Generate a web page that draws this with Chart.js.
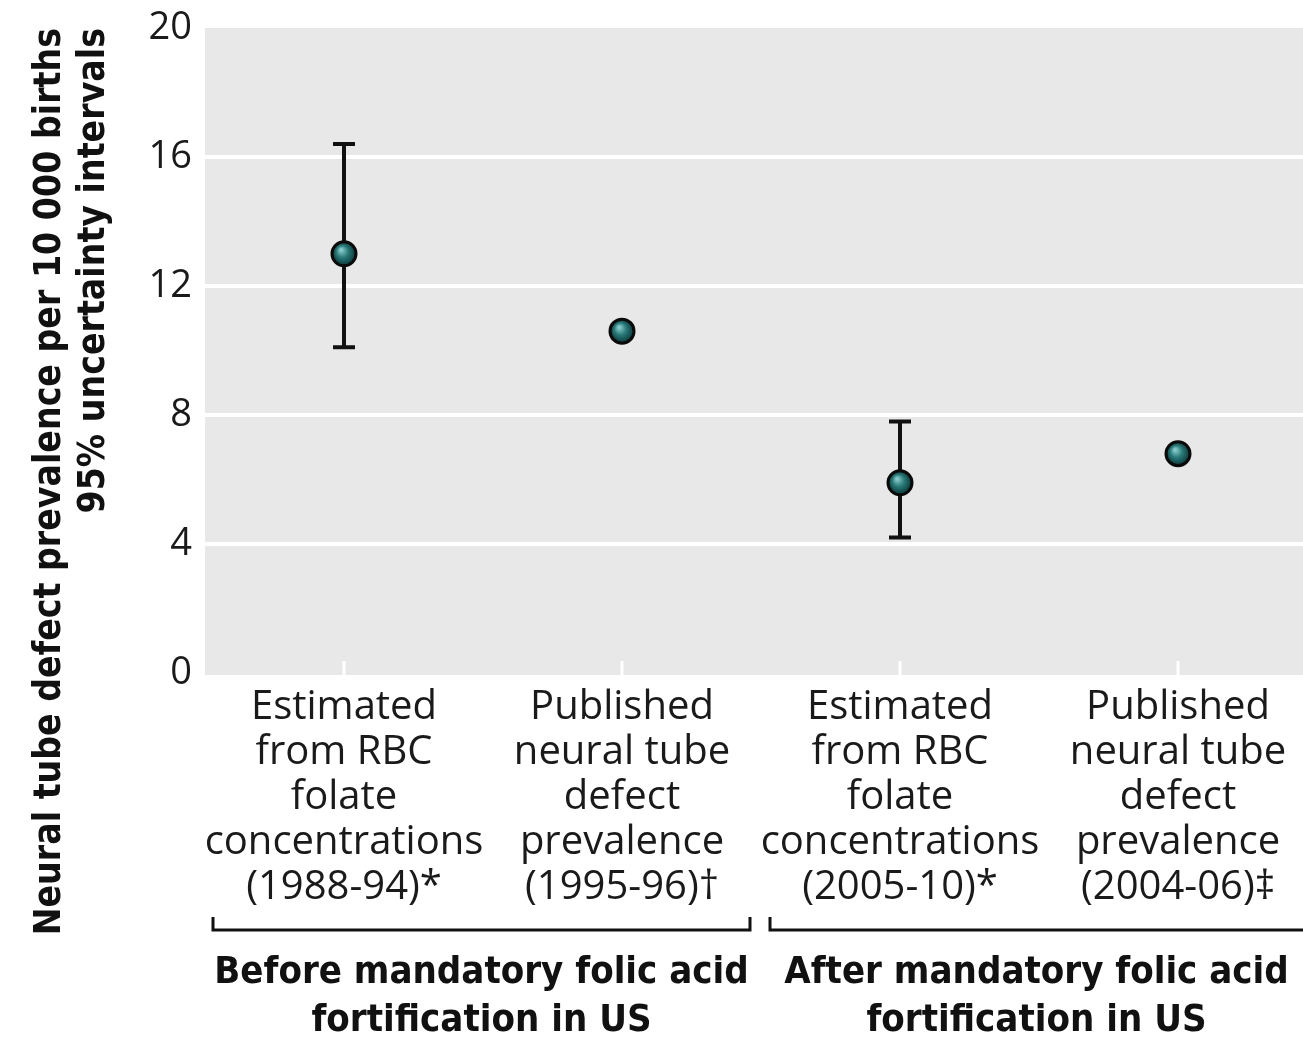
<!DOCTYPE html>
<html>
<head>
<meta charset="utf-8">
<script src="https://cdn.jsdelivr.net/npm/chart.js@4.4.1/dist/chart.umd.min.js"></script>
<style>
  html, body { margin: 0; background: #fff; overflow: hidden; }
  /* the grey panel runs off the right edge in the original, so the canvas is a bit wider than the window */
  #wrap { width: 1317px; height: 1045px; }
  canvas { display: block; }
</style>
</head>
<body>
<div id="wrap"><canvas id="ntdChart"></canvas></div>
<script>
// categories (x axis labels, one array of lines each)
var categories = [
  ['Estimated', 'from RBC', 'folate', 'concentrations', '(1988-94)*'],
  ['Published', 'neural tube', 'defect', 'prevalence', '(1995-96)\u2020'],
  ['Estimated', 'from RBC', 'folate', 'concentrations', '(2005-10)*'],
  ['Published', 'neural tube', 'defect', 'prevalence', '(2004-06)\u2021']
];

// prevalence per 10 000 births and 95% uncertainty intervals
var prevalence = [13.0, 10.6, 5.9, 6.8];
var lowerCI = [10.1, null, 4.2, null];
var upperCI = [16.4, null, 7.8, null];

var yTicks = [0, 4, 8, 12, 16, 20];

// groups under the axis
var groupLabels = [
  ['Before mandatory folic acid', 'fortification in US'],
  ['After mandatory folic acid', 'fortification in US']
];
var groupSpans = [[0, 1], [2, 3]];

var titleFont = '"DejaVu Sans Condensed", "DejaVu Sans", sans-serif';
var tickFont = '"Open Sans", sans-serif';
var viewWidth = 1303;

// grey panel + small white ticks at the bottom
var panelBg = {
  id: 'panelBg',
  beforeDraw: function (chart) {
    var ctx = chart.ctx, a = chart.chartArea, x = chart.scales.x;
    ctx.save();
    ctx.fillStyle = '#e8e8e8';
    ctx.fillRect(a.left, a.top, a.right - a.left, a.bottom - a.top + 2);
    ctx.strokeStyle = '#ffffff';
    ctx.lineWidth = 3;
    for (var i = 0; i < categories.length; i++) {
      var px = x.getPixelForValue(i);
      ctx.beginPath();
      ctx.moveTo(px, a.bottom - 12);
      ctx.lineTo(px, a.bottom + 2);
      ctx.stroke();
    }
    ctx.restore();
  }
};

// vertical error bars with caps, behind the points
var errorBars = {
  id: 'errorBars',
  beforeDatasetsDraw: function (chart) {
    var ctx = chart.ctx, x = chart.scales.x, y = chart.scales.y;
    ctx.save();
    ctx.strokeStyle = '#111';
    ctx.lineWidth = 4;
    for (var i = 0; i < prevalence.length; i++) {
      if (lowerCI[i] == null) continue;
      var px = x.getPixelForValue(i);
      var lo = y.getPixelForValue(lowerCI[i]);
      var hi = y.getPixelForValue(upperCI[i]);
      ctx.beginPath();
      ctx.moveTo(px, lo); ctx.lineTo(px, hi);
      ctx.moveTo(px - 11, lo); ctx.lineTo(px + 11, lo);
      ctx.moveTo(px - 11, hi); ctx.lineTo(px + 11, hi);
      ctx.stroke();
    }
    ctx.restore();
  }
};

// brackets and group titles below the category labels
var groupBrackets = {
  id: 'groupBrackets',
  afterDraw: function (chart) {
    var ctx = chart.ctx, x = chart.scales.x;
    var step = x.getPixelForValue(1) - x.getPixelForValue(0);
    var yLine = 930;
    ctx.save();
    ctx.strokeStyle = '#111';
    ctx.lineWidth = 3;
    ctx.fillStyle = '#111';
    ctx.font = 'bold 38px ' + titleFont;
    ctx.textAlign = 'center';
    ctx.textBaseline = 'middle';
    groupSpans.forEach(function (span, g) {
      var x0 = x.getPixelForValue(span[0]) - step / 2 + (g === 0 ? 8 : 9);
      var x1 = Math.min(x.getPixelForValue(span[1]) + step / 2 - 11, viewWidth + 2);
      ctx.beginPath();
      ctx.moveTo(x0, yLine - 13);
      ctx.lineTo(x0, yLine);
      ctx.lineTo(x1, yLine);
      ctx.lineTo(x1, yLine - 13);
      ctx.stroke();
      var cx = (x0 + Math.min(x1, viewWidth)) / 2;
      ctx.fillText(groupLabels[g][0], cx, 973);
      ctx.fillText(groupLabels[g][1], cx, 1021);
    });
    ctx.restore();
  }
};

// sphere-like fill for the markers
function markerFill(context) {
  var chart = context.chart;
  if (!chart.chartArea || context.raw == null) return '#236f6f';
  var px = chart.scales.x.getPixelForValue(context.dataIndex);
  var py = chart.scales.y.getPixelForValue(context.raw);
  var g = chart.ctx.createRadialGradient(px - 3, py - 4, 1, px, py, 12);
  g.addColorStop(0, '#86c9c9');
  g.addColorStop(0.45, '#2a7a7a');
  g.addColorStop(1, '#0b3535');
  return g;
}

var ctx = document.getElementById('ntdChart').getContext('2d');
var myChart = new Chart(ctx, {
  type: 'line',
  data: {
    labels: categories,
    datasets: [{
      data: prevalence,
      showLine: false,
      pointRadius: 12,
      pointHoverRadius: 12,
      pointBorderWidth: 3,
      pointBorderColor: '#0a0a0a',
      pointBackgroundColor: markerFill
    }]
  },
  options: {
    responsive: true,
    maintainAspectRatio: false,
    animation: false,
    layout: {
      autoPadding: false,
      padding: { top: 28, right: 0, bottom: 140, left: 0 }
    },
    plugins: {
      legend: { display: false },
      tooltip: { enabled: false }
    },
    scales: {
      x: {
        type: 'category',
        offset: true,
        grid: { display: false },
        border: { display: false },
        ticks: {
          color: '#1a1a1a',
          font: { family: tickFont, size: 40, lineHeight: 1.125 },
          maxRotation: 0,
          minRotation: 0,
          autoSkip: false,
          padding: 4
        },
        afterFit: function (scale) {
          scale.height = 232;
          scale.paddingLeft = 0;
          scale.paddingRight = 0;
        }
      },
      y: {
        min: 0,
        max: 20,
        afterBuildTicks: function (scale) {
          scale.ticks = yTicks.map(function (v) { return { value: v }; });
        },
        grid: {
          color: function (c) { return c.tick.value === 0 || c.tick.value === 20 ? 'rgba(0,0,0,0)' : '#ffffff'; },
          lineWidth: 4,
          drawTicks: false
        },
        border: { display: false },
        ticks: {
          color: '#1a1a1a',
          font: { family: tickFont, size: 38 },
          padding: 13
        },
        title: {
          display: true,
          text: ['Neural tube defect prevalence per 10 000 births', '95% uncertainty intervals'],
          align: 'end',
          color: '#111',
          font: { family: titleFont, size: 37, weight: 'bold', lineHeight: 1.2 },
          padding: { top: 28, bottom: 0 }
        },
        afterFit: function (scale) {
          scale.width = 205;
          scale.paddingTop = 0;
          scale.paddingBottom = 0;
        }
      }
    }
  },
  plugins: [panelBg, errorBars, groupBrackets]
});
</script>
</body>
</html>
